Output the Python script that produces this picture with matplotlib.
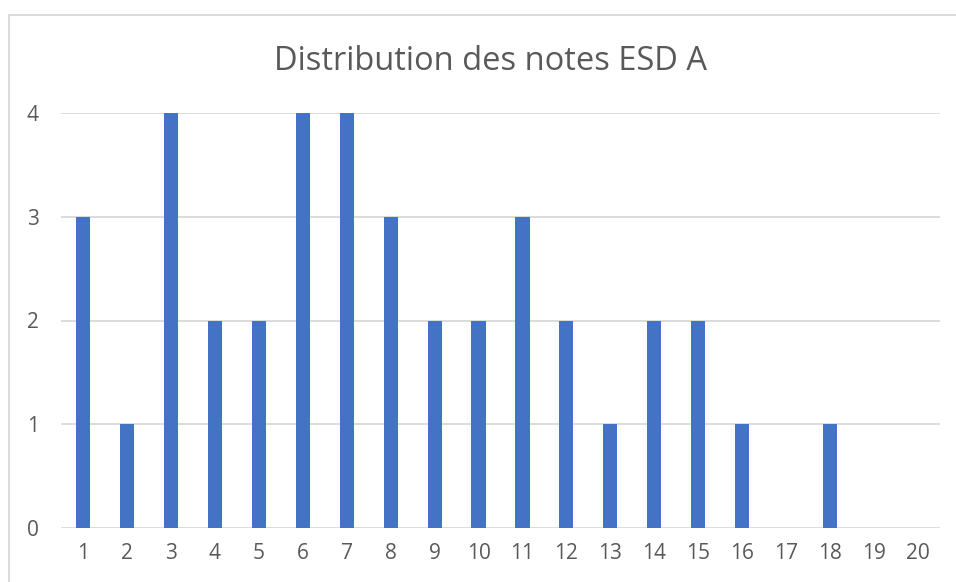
import matplotlib
matplotlib.use("Agg")
import matplotlib.pyplot as plt
from matplotlib.lines import Line2D

categories = [str(i) for i in range(1, 21)]
counts = [3, 1, 4, 2, 2, 4, 4, 3, 2, 2, 3, 2, 1, 2, 2, 1, 0, 1, 0, 0]
yticks = [0, 1, 2, 3, 4]
title = "Distribution des notes ESD A"

plt.rcParams['font.family'] = ['Open Sans', 'DejaVu Sans']

W, H = 956, 582
fig = plt.figure(figsize=(W / 100, H / 100), dpi=100)
fig.patch.set_facecolor('white')

x0, x1 = 61, 940
y0, y1 = 528, 113
ax = fig.add_axes([x0 / W, 1 - y0 / H, (x1 - x0) / W, (y0 - y1) / H])

xs = list(range(len(categories)))
ax.bar(xs, counts, width=0.32, color='#4472C4', zorder=3)
ax.set_xlim(-0.5, len(categories) - 0.5)
ax.set_ylim(0, 4)
ax.set_xticks(xs)
ax.set_xticklabels(categories)
ax.set_yticks(yticks)
ax.set_yticklabels([str(v) for v in yticks])
ax.grid(axis='y', color='#D9D9D9', linewidth=1.3, zorder=0)
for s in ax.spines.values():
    s.set_visible(False)
ax.tick_params(axis='both', length=0, labelsize=15, colors='#595959')
ax.tick_params(axis='x', pad=11)
ax.tick_params(axis='y', pad=16)

fig.text(490 / W, 1 - 62 / H, title, ha='center', va='center',
         fontsize=23.5, color='#595959')

# outer chart border (top and left visible)
fig.add_artist(Line2D([9 / W, 9 / W], [0, 1 - 14.5 / H], transform=fig.transFigure,
                      color='#D9D9D9', linewidth=1.3))
fig.add_artist(Line2D([9 / W, 1], [1 - 14.5 / H, 1 - 14.5 / H], transform=fig.transFigure,
                      color='#D9D9D9', linewidth=1.3))

fig.savefig('out.png', dpi=100, facecolor='white')
